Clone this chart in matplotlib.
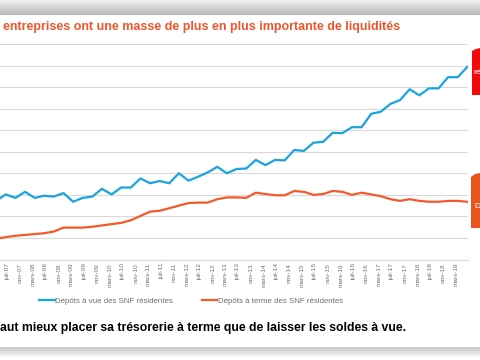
import matplotlib
matplotlib.use("Agg")
import matplotlib.pyplot as plt
import numpy as np
import pandas as pd
from matplotlib.patches import Polygon

# ---- data (quarterly, apr-2007 .. jul-2019), arbitrary units (bn EUR-like) ----
quarter_dates = pd.date_range("2007-04-01", "2019-07-01", freq="QS-JAN")
depots_vue = [136, 151, 143, 157, 143, 148, 146, 154, 134, 143, 146, 164, 151, 167, 167,
              188, 177, 182, 177, 200, 183, 192, 202, 215, 200, 210, 211, 231, 219, 231,
              230, 254, 252, 271, 273, 294, 293, 307, 307, 338, 343, 361, 370, 395, 381,
              397, 397, 423, 423, 447]
depots_terme = [48, 52, 55, 57, 59, 61, 65, 74, 74, 74, 76, 79, 82, 85, 91,
                101, 111, 113, 119, 125, 131, 132, 132, 140, 144, 144, 143, 155, 152, 149,
                149, 159, 157, 150, 152, 159, 157, 150, 155, 151, 147, 140, 136, 140, 136,
                134, 134, 136, 136, 134]
tick_labels = ["juil-07", "nov-07", "mars-08", "juil-08", "nov-08", "mars-09", "juil-09",
               "nov-09", "mars-10", "juil-10", "nov-10", "mars-11", "juil-11", "nov-11",
               "mars-12", "juil-12", "nov-12", "mars-13", "juil-13", "nov-13", "mars-14",
               "juil-14", "nov-14", "mars-15", "juil-15", "nov-15", "mars-16", "juil-16",
               "nov-16", "mars-17", "juil-17", "nov-17", "mars-18", "juil-18", "nov-18",
               "mars-19"]
series_names = ["Dépôts à vue des SNF résidentes", "Dépôts à terme des SNF résidentes"]
title_text = "entreprises ont une masse de plus en plus importante de liquidités"
bottom_text = "aut mieux placer sa trésorerie à terme que de laisser les soldes à vue."

BLUE = "#1AA3DE"
ORANGE = "#F4592B"
GRID = "#D9D9D9"

x_months = np.array([(d.year - 2007) * 12 + d.month - 1 for d in quarter_dates])
tick_pos = 6 + 4 * np.arange(len(tick_labels)) + 0.5

plt.rcParams['font.family'] = ['Liberation Sans', 'DejaVu Sans']

W, H = 480, 360
fig = plt.figure(figsize=(4.8, 3.6), dpi=100)
fig.patch.set_facecolor("white")

# background / pixel-coordinate layer
bg = fig.add_axes([0, 0, 1, 1], zorder=0)
bg.set_axis_off()

# top shadow
top_grad = np.linspace(0.95, 0.72, 60).reshape(-1, 1)
bg.imshow(np.dstack([top_grad] * 3), extent=(0, W, 15, 0), aspect="auto", zorder=1)
# bottom shadow
bot_grad = np.linspace(0.78, 0.97, 60).reshape(-1, 1)
bg.imshow(np.dstack([bot_grad] * 3), extent=(0, W, 357, 347), aspect="auto", zorder=1)
bg.set_xlim(0, W)
bg.set_ylim(H, 0)

bg.text(3, 27, title_text, color="#F0552B", fontsize=9.0, fontweight="bold",
        va="center", ha="left")
bg.text(0, 328, bottom_text, color="black", fontsize=8.8, fontweight="bold",
        va="center", ha="left")

# cropped callout ribbons at right edge
bg.add_patch(Polygon([[472, 51], [476, 49], [480, 48], [480, 95], [472, 95]],
                     closed=True, facecolor="#F20A0A", edgecolor="none", zorder=2))
bg.text(473.5, 73, "ré", color="white", fontsize=6, va="center", ha="left", zorder=3,
        clip_on=True)
bg.add_patch(Polygon([[471, 177], [475, 174], [480, 173], [480, 228], [471, 228]],
                     closed=True, facecolor="#E8541E", edgecolor="none", zorder=2))
bg.text(474.5, 206, "D", color="white", fontsize=6, va="center", ha="left", zorder=3,
        clip_on=True)

# main chart
ax = fig.add_axes([0, 1 - 259.5 / H, 468 / W, (259.5 - 44) / H], zorder=1)
ax.set_facecolor("none")
ax.plot(x_months, depots_vue, color=BLUE, lw=1.6, label=series_names[0],
        solid_joinstyle="round", zorder=3)
ax.plot(x_months, depots_terme, color=ORANGE, lw=1.6, label=series_names[1],
        solid_joinstyle="round", zorder=3)
ax.set_xlim(4.19, 150.2)
ax.set_ylim(0, 500)
ax.set_yticks(np.arange(0, 501, 50))
ax.yaxis.grid(True, color=GRID, lw=0.8)
ax.set_axisbelow(True)
ax.tick_params(axis="y", left=False, labelleft=False)
ax.set_xticks(tick_pos)
ax.set_xticklabels(tick_labels, rotation=90, fontsize=4.6, color="#6F6F6F")
ax.tick_params(axis="x", length=0, pad=2.5)
for s in ["top", "left", "right"]:
    ax.spines[s].set_visible(False)
ax.spines["bottom"].set_color(GRID)
ax.spines["bottom"].set_linewidth(0.8)

leg = ax.legend(loc="center", bbox_to_anchor=(191 / W, 1 - 301 / H),
                bbox_transform=fig.transFigure, ncol=2, frameon=False,
                fontsize=5.7, handlelength=2.0, handletextpad=0.05,
                columnspacing=3.6, labelcolor="#6F6F6F")

fig.savefig("out.png", dpi=100)
